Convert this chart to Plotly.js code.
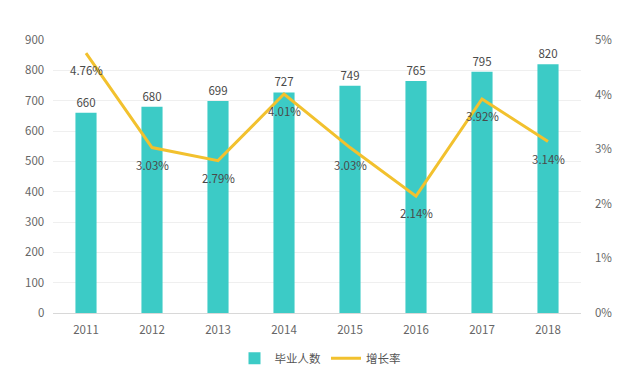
<!DOCTYPE html>
<html><head><meta charset="utf-8">
<script src="https://cdn.plot.ly/plotly-3.0.1.min.js"></script>
<style>body{margin:0}#c{width:640px;height:377px}</style>
</head><body><div id="c"></div>
<script>
const years = ['2011','2012','2013','2014','2015','2016','2017','2018'];
const graduates = [660, 680, 699, 727, 749, 765, 795, 820];
const growth = [0.0476, 0.0303, 0.0279, 0.0401, 0.0303, 0.0214, 0.0392, 0.0314];
const growthLabels = ['4.76%','3.03%','2.79%','4.01%','3.03%','2.14%','3.92%','3.14%'];

const font = "'Noto Sans CJK SC', 'Noto Sans', sans-serif";
const data = [
  {type:'bar', name:'毕业人数', x:years, y:graduates, text:graduates.map(String),
   textposition:'outside', cliponaxis:false, width:0.32,
   marker:{color:'#3ccbc6'}, textfont:{size:11.5, color:'#4a4a4a'}},
  {type:'scatter', mode:'lines', name:'增长率', x:years, y:growth, yaxis:'y2',
   line:{color:'#f2c12e', width:3}}
];
const annotations = years.map((yr, i) => ({
  x: i, y: growth[i], xref:'x', yref:'y2', text: growthLabels[i],
  showarrow:false, yshift:-17, font:{size:11.5, color:'#4a4a4a'}
}));
const layout = {
  width:640, height:377, margin:{l:53, r:59, t:40, b:64},
  paper_bgcolor:'#fff', plot_bgcolor:'#fff',
  font:{family:font, size:11, color:'#666'},
  showlegend:true,
  legend:{orientation:'h', x:0.5, xanchor:'center', xref:'container', yref:'container',
          y:0.088, yanchor:'top', font:{size:11.5, color:'#555'}},
  bargap:0.68,
  annotations: annotations,
  xaxis:{type:'category', range:[-0.5, 7.5], showline:false, ticks:'', ticklabelstandoff:8,
         tickfont:{size:11.5, color:'#666'}, automargin:false},
  yaxis:{range:[0,900], dtick:100, showgrid:true, gridcolor:'#efefef', zeroline:true, zerolinecolor:'#d8d8d8',
         ticks:'', tickfont:{size:11.5, color:'#666'}, ticksuffix:'   ', automargin:false},
  yaxis2:{range:[0,0.05], dtick:0.01, tickformat:'.0%', overlaying:'y', side:'right', showgrid:false,
          zeroline:false, ticks:'', tickfont:{size:11.5, color:'#666'}, tickprefix:'     ', automargin:false}
};
Plotly.newPlot('c', data, layout, {displayModeBar:false});
</script></body></html>
